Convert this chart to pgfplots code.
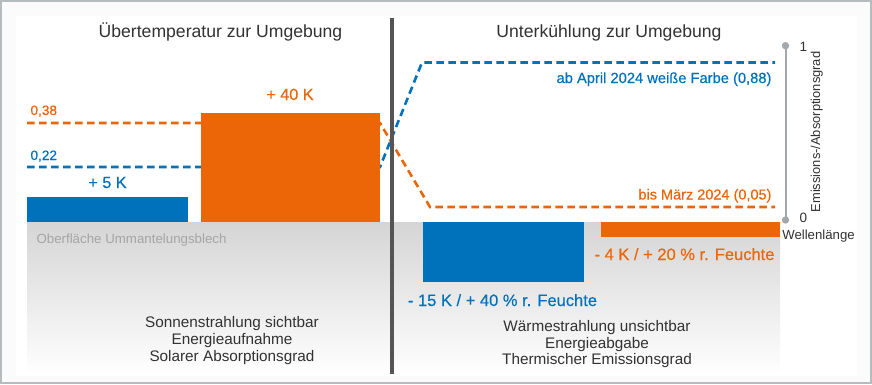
\documentclass[border=0pt]{standalone}
\usepackage{pgfplots}
\pgfplotsset{compat=1.18}
\usepackage{fontspec}
\setmainfont{Liberation Sans}
\newfontfamily\medfont[FakeBold=0.4]{Liberation Sans}
\definecolor{cblue}{RGB}{0,114,188}
\definecolor{corange}{RGB}{236,102,8}
\definecolor{ctext}{RGB}{50,50,50}
\definecolor{cdiv}{RGB}{85,85,85}
\definecolor{cscale}{RGB}{160,168,174}
\definecolor{cframe}{RGB}{182,188,190}
\definecolor{cgraytop}{RGB}{213,213,213}
\definecolor{cgraymid}{RGB}{236,236,236}
\definecolor{clabel}{RGB}{165,165,165}
\definecolor{cbg}{RGB}{251,251,251}
\newcommand{\fs}[1]{\fontsize{#1}{#1}\selectfont}
\begin{document}
\begin{tikzpicture}
\begin{axis}[
  scale only axis, width=872pt, height=384pt,
  xmin=0, xmax=872, ymin=0, ymax=384,
  hide axis, clip=false,
  every node/.style={inner sep=0pt},
]
\coordinate (SW) at (rel axis cs:0,0);
\coordinate (NE) at (rel axis cs:1,1);
% background
\addplot[draw=none, fill=cbg] coordinates {(0,0) (872,0) (872,384) (0,384)} -- cycle;
\addplot[draw=none, fill=white] coordinates {(16,8) (857,8) (857,368) (16,368)} -- cycle;
% gray surface region
\addplot[draw=none, top color=cgraytop, middle color=cgraymid, bottom color=white] coordinates {(27,162) (780,162) (780,9) (27,9)} -- cycle;
% emissivity / absorptivity dashed lines
\addplot[corange, line width=2.6pt, dash pattern=on 7.5pt off 4.5pt] coordinates {(27,261) (380,261) (430,177) (775,177)};
\addplot[cblue, line width=2.6pt, dash pattern=on 7.5pt off 4.5pt] coordinates {(27,217) (380,217) (422,321.5) (775,321.5)};
% bars: +5 K, +40 K, -15 K, -4 K
\addplot[draw=none, fill=cblue] coordinates {(27,162) (188,162) (188,187) (27,187)} -- cycle;
\addplot[draw=none, fill=corange] coordinates {(201,162) (380,162) (380,271) (201,271)} -- cycle;
\addplot[draw=none, fill=cblue] coordinates {(423,162) (584,162) (584,102) (423,102)} -- cycle;
\addplot[draw=none, fill=corange] coordinates {(601,162) (780,162) (780,147) (601,147)} -- cycle;
% divider
\addplot[cdiv, line width=4pt] coordinates {(392.3,366) (392.3,10)};
% right scale
\addplot[cscale, line width=2pt, mark=*, mark size=2.6pt, mark options={fill=cscale, draw=cscale}] coordinates {(785.5,338.3) (785.5,164)};
% texts
\node[anchor=base, text=ctext] at (axis cs:220.5,347) {\fs{17.6}Übertemperatur zur Umgebung};
\node[anchor=base, text=ctext] at (axis cs:609,347) {\fs{17.6}Unterkühlung zur Umgebung};
\node[anchor=base, text=corange] at (axis cs:290,284) {\medfont\fs{16.2}+ 40 K};
\node[anchor=base west, text=corange] at (axis cs:27,269) {\medfont\fs{13.6}0,38};
\node[anchor=base west, text=cblue] at (axis cs:27,224) {\medfont\fs{13.6}0,22};
\node[anchor=base, text=cblue] at (axis cs:107.5,196) {\medfont\fs{16.2}+ 5 K};
\node[anchor=base east, text=cblue] at (axis cs:775,301) {\medfont\fs{14.7}ab April 2024 weiße Farbe (0,88)};
\node[anchor=base east, text=corange] at (axis cs:775,184.5) {\medfont\fs{14.5}bis März 2024 (0,05)};
\node[anchor=base west, text=ctext] at (axis cs:796,333) {\fs{13.5}1};
\node[anchor=base west, text=ctext] at (axis cs:796,162) {\fs{13.5}0};
\node[anchor=base, rotate=90, text=ctext] at (axis cs:820,252) {\fs{12.9}Emissions-/Absorptionsgrad};
\node[anchor=base, text=ctext] at (axis cs:818.5,145) {\fs{13.2}Wellenlänge};
\node[anchor=base west, text=clabel] at (axis cs:33,141) {\fs{13.3}Oberfläche Ummantelungsblech};
\node[anchor=base east, text=corange] at (axis cs:778,124) {\medfont\fs{16.5}- 4 K / + 20 \% r. Feuchte};
\node[anchor=base, text=cblue] at (axis cs:502.5,78) {\medfont\fs{16.5}- 15 K / + 40 \% r. Feuchte};
\node[anchor=base, text=ctext] at (axis cs:232,57) {\fs{15.3}Sonnenstrahlung sichtbar};
\node[anchor=base, text=ctext] at (axis cs:232,40) {\fs{15.3}Energieaufnahme};
\node[anchor=base, text=ctext] at (axis cs:232,23) {\fs{15.3}Solarer Absorptionsgrad};
\node[anchor=base, text=ctext] at (axis cs:597,53) {\fs{15.3}Wärmestrahlung unsichtbar};
\node[anchor=base, text=ctext] at (axis cs:597,36) {\fs{15.3}Energieabgabe};
\node[anchor=base, text=ctext] at (axis cs:597,20) {\fs{15.3}Thermischer Emissionsgrad};
% frame
\draw[cframe, line width=1.6pt] (axis cs:0.8,0.8) rectangle (axis cs:871.2,383.2);
\end{axis}
\pgfresetboundingbox
\path[use as bounding box] (SW) rectangle (NE);
\end{tikzpicture}
\end{document}
